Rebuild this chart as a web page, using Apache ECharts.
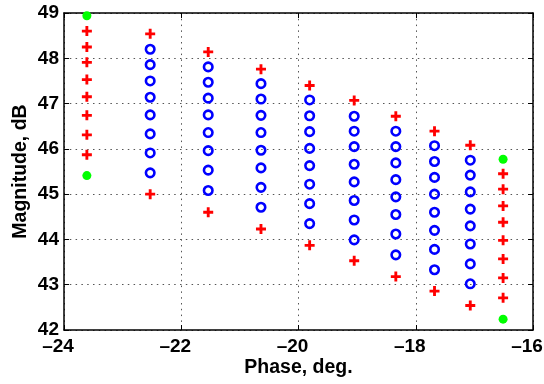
<!DOCTYPE html>
<html><head><meta charset="utf-8">
<script src="https://cdn.jsdelivr.net/npm/echarts@6/dist/echarts.min.js"></script>
<style>html,body{margin:0;padding:0;background:#fff}#c{width:544px;height:384px}</style>
</head><body><div id="c"></div>
<script>
// Column phase positions (deg)
var colX = [-23.61, -22.53, -21.54, -20.64, -19.81, -19.05, -18.34, -17.68, -17.07, -16.51];
// Blue circles, columns 2..9 (dB)
var circles = [
  [48.20, 47.86, 47.50, 47.14, 46.75, 46.33, 45.91, 45.47],
  [47.81, 47.47, 47.12, 46.75, 46.36, 45.96, 45.53, 45.08],
  [47.44, 47.10, 46.74, 46.36, 45.97, 45.58, 45.15, 44.71],
  [47.08, 46.73, 46.38, 46.01, 45.63, 45.22, 44.79, 44.35],
  [46.72, 46.39, 46.05, 45.66, 45.27, 44.86, 44.43, 43.99],
  [46.39, 46.05, 45.69, 45.32, 44.94, 44.55, 44.12, 43.66],
  [46.07, 45.72, 45.37, 45.00, 44.60, 44.20, 43.78, 43.33],
  [45.75, 45.42, 45.05, 44.67, 44.30, 43.90, 43.46, 43.02]
];
// Red plus markers
var plusFirstCol = [48.60, 48.25, 47.91, 47.53, 47.15, 46.74, 46.31, 45.87];
var plusTop = [48.54, 48.14, 47.76, 47.40, 47.07, 46.72, 46.39, 46.08];   // columns 2..9
var plusBottom = [45.00, 44.60, 44.23, 43.87, 43.53, 43.18, 42.86, 42.54]; // columns 2..9
var plusLastCol = [45.45, 45.11, 44.74, 44.38, 43.98, 43.57, 43.15, 42.71];
// Green dots
var greenFirstCol = [48.94, 45.41];
var greenLastCol = [45.77, 42.24];
var xTicks = [-24, -22, -20, -18, -16];
var yTicks = [42, 43, 44, 45, 46, 47, 48, 49];

var circleData = [], plusData = [], greenData = [];
circles.forEach(function (col, i) { col.forEach(function (v) { circleData.push([colX[i + 1], v]); }); });
plusFirstCol.forEach(function (v) { plusData.push([colX[0], v]); });
plusTop.forEach(function (v, i) { plusData.push([colX[i + 1], v]); });
plusBottom.forEach(function (v, i) { plusData.push([colX[i + 1], v]); });
plusLastCol.forEach(function (v) { plusData.push([colX[9], v]); });
greenFirstCol.forEach(function (v) { greenData.push([colX[0], v]); });
greenLastCol.forEach(function (v) { greenData.push([colX[9], v]); });

var font = 'Liberation Sans, Arial, Helvetica, sans-serif';
function fmt(v) { return String(v).replace('-', '\u2013'); }
var gridLine = { show: true, lineStyle: { color: '#555', type: [1.5, 4.3], width: 1 } };
var axisLine = { show: true, onZero: false, lineStyle: { color: '#000', width: 1.5 } };
var tick = { show: true, inside: true, length: 5, lineStyle: { color: '#000', width: 1 } };
var labelStyle = { color: '#000', fontFamily: font, fontWeight: 'bold', fontSize: 19 };
var nameStyle = { color: '#000', fontFamily: font, fontWeight: 'bold', fontSize: 19.5 };

var chart = echarts.init(document.getElementById('c'), null, { renderer: 'canvas' });
chart.setOption({
  animation: false,
  backgroundColor: '#fff',
  grid: { left: 64, right: 11, top: 13, bottom: 54, containLabel: false, outerBoundsMode: 'none' },
  xAxis: [{
    type: 'value', min: -24, max: -16, interval: 2, position: 'bottom',
    name: 'Phase, deg.', nameLocation: 'middle', nameGap: 28, nameMoveOverlap: false,
    nameTextStyle: nameStyle,
    axisLine: axisLine, axisTick: tick, splitLine: gridLine,
    axisLabel: Object.assign({ margin: 7, formatter: fmt, padding: [0, 12, 0, 0] }, labelStyle)
  }, {
    type: 'value', min: -24, max: -16, interval: 2, position: 'top',
    axisLine: axisLine, axisTick: tick, splitLine: { show: false }, axisLabel: { show: false }
  }],
  yAxis: [{
    type: 'value', min: 42, max: 49, interval: 1, position: 'left',
    name: 'Magnitude, dB', nameLocation: 'middle', nameGap: 33, nameMoveOverlap: false,
    nameTextStyle: nameStyle,
    axisLine: axisLine, axisTick: tick, splitLine: gridLine,
    axisLabel: Object.assign({ margin: 5, formatter: fmt, padding: [4, 0, 0, 0] }, labelStyle)
  }, {
    type: 'value', min: 42, max: 49, interval: 1, position: 'right',
    axisLine: axisLine, axisTick: tick, splitLine: { show: false }, axisLabel: { show: false }
  }],
  series: [{
    type: 'scatter', data: plusData, symbolSize: 10,
    symbol: 'path://M-1,-3.5H1V-1H3.5V1H1V3.5H-1V1H-3.5V-1H-1Z',
    itemStyle: { color: '#ff0000', opacity: 1 }
  }, {
    type: 'scatter', data: circleData, symbol: 'circle', symbolSize: 8.5,
    itemStyle: { color: 'rgba(0,0,0,0)', borderColor: '#0000ff', borderWidth: 2.6, opacity: 1 }
  }, {
    type: 'scatter', data: greenData, symbol: 'circle', symbolSize: 9,
    itemStyle: { color: '#00ff00', opacity: 1 }
  }]
});
</script></body></html>
